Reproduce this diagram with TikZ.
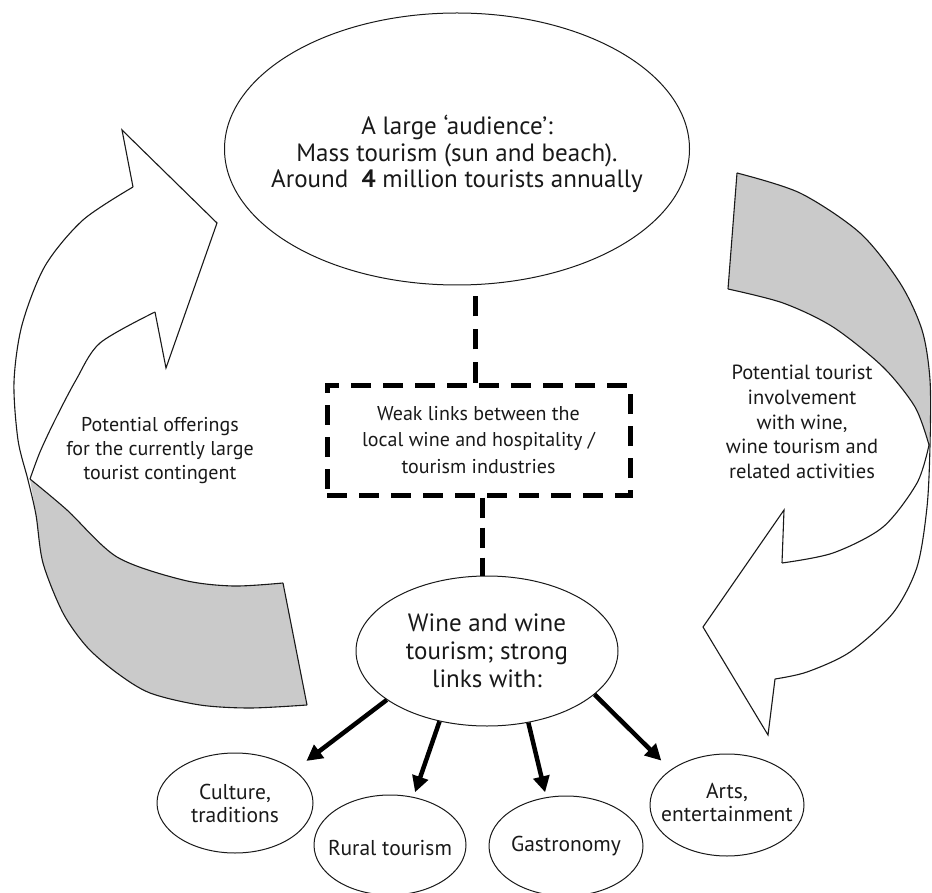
\documentclass[tikz,border=0pt]{standalone}
\usepackage{fontspec}
\setmainfont{PT Sans}
\usetikzlibrary{shapes.geometric,arrows.meta,calc}
\definecolor{ribbon}{RGB}{202,202,202}
\definecolor{ink}{RGB}{25,25,25}
\begin{document}
\begin{tikzpicture}[x=1pt,y=-1pt,
  edge/.style={draw=ink, line width=1.1pt, line join=miter},
  ell/.style={draw=ink, ellipse, line width=1pt, inner sep=0pt, fill=white},
  txt/.style={align=center, text=ink, inner sep=0pt},
  dline/.style={draw=black, line width=5pt},
  bigarrow/.style={draw=black, line width=4.5pt, -{Triangle[length=16pt,width=16pt]}}
]
\useasboundingbox (0,0) rectangle (932,893);

% ---------- left ribbon arrow ----------
\fill[ribbon] plot[smooth] coordinates {(30,479) (36,515) (43,563) (63,613) (87,647) (117,673) (150,693) (200,705) (250,708) (307,705)}
  -- plot[smooth] coordinates {(283,583) (233,586) (183,580) (117,557) (67,510) (30,479)} -- cycle;
\draw[edge] plot[smooth] coordinates {(133,187) (83,220) (45,266) (22,325) (14,382) (18,440) (28,480) (36,515) (43,563) (63,613) (87,647) (117,673) (150,693) (200,705) (250,708) (307,705)};
\draw[edge] plot[smooth] coordinates {(155,312) (100,343) (76,380) (55,420) (40,452) (30,479)};
\draw[edge] plot[smooth] coordinates {(30,479) (67,510) (117,557) (183,580) (233,586) (283,583)};
\draw[edge] (283,583) -- (307,705);
\draw[edge] (133,187) -- (122,130) -- (217,223) -- (166,368) -- (155,312);

% ---------- right ribbon arrow ----------
\fill[ribbon] plot[smooth] coordinates {(737,173) (800,193) (860,233) (900,283) (922,330) (930,380) (929,445)}
  -- plot[smooth] coordinates {(929,445) (915,407) (883,367) (833,327) (783,303) (728,289)} -- cycle;
\draw[edge] plot[smooth] coordinates {(737,173) (800,193) (860,233) (900,283) (922,330) (930,380) (930,445) (927,507) (917,567) (893,613) (850,652) (807,672) (775,679)};
\draw[edge] plot[smooth] coordinates {(929,445) (915,407) (883,367) (833,327) (783,303) (728,289)};
\draw[edge] plot[smooth] coordinates {(929,445) (917,483) (883,527) (833,553) (782,563)};
\draw[edge] (737,173) -- (728,289);
\draw[edge] (782,563) -- (784,510) -- (703,627) -- (768,735) -- (775,679);

% ---------- side texts ----------
\node[txt, font=\fontsize{20}{24}\selectfont] (offer) at (160,451)
  {Potential offerings\\for the currently large\\tourist contingent};
\node[txt, font=\fontsize{20.5}{24.8}\selectfont] (involve) at (802,422)
  {Potential tourist\\involvement\\with wine,\\wine tourism and\\related activities};

% ---------- main nodes ----------
\node[ell, minimum width=465pt, minimum height=272pt,
  label={[txt, yshift=-5pt, font=\fontsize{25}{26.5}\selectfont]center:{A large ‘audience’:\\Mass tourism (sun and beach).\\Around\ \ \textbf{4} million tourists annually}}] (top) at (457,149) {};

\node[draw=black, line width=5pt, dash pattern=on 20pt off 12pt, minimum width=303pt, minimum height=110pt,
  txt, font=\fontsize{20}{26.5}\selectfont] (weak) at (478.5,440)
  {Weak links between the\\local wine and hospitality /\\tourism industries};

\node[ell, minimum width=262pt, minimum height=150pt,
  label={[txt, font=\fontsize{25}{28}\selectfont]center:{Wine and wine\\tourism; strong\\links with:}}] (wine) at (487,651) {};

\node[ell, minimum width=156pt, minimum height=100pt,
  label={[txt, font=\fontsize{21.5}{23}\selectfont]center:{Culture,\\traditions}}] (culture) at (235,803) {};
\node[ell, minimum width=152pt, minimum height=100pt,
  label={[txt, yshift=-3pt, font=\fontsize{21.5}{23}\selectfont]center:{Rural tourism}}] (rural) at (390,845) {};
\node[ell, minimum width=154pt, minimum height=100pt,
  label={[txt, font=\fontsize{21.5}{23}\selectfont]center:{Gastronomy}}] (gastro) at (566,846) {};
\node[ell, minimum width=154pt, minimum height=102pt,
  label={[txt, yshift=3pt, font=\fontsize{21.5}{23}\selectfont]center:{Arts,\\entertainment}}] (arts) at (727,805) {};

% ---------- connectors ----------
\draw[dline, dash pattern=on 20pt off 13pt] (weak.north -| 475,0) -- (top.south -| 475,0);
\draw[dline, dash pattern=on 20pt off 10pt] (weak.south -| 482,0) -- (wine.north -| 482,0);

\draw[bigarrow, shorten >=15pt] (wine.206) -- (culture.29);
\draw[bigarrow, shorten >=5pt] (wine.236) -- (rural.64);
\draw[bigarrow, shorten >=5pt] (wine.300) -- (gastro.112);
\draw[bigarrow, shorten >=13pt] (wine.338) -- (arts.148);
\end{tikzpicture}
\end{document}
